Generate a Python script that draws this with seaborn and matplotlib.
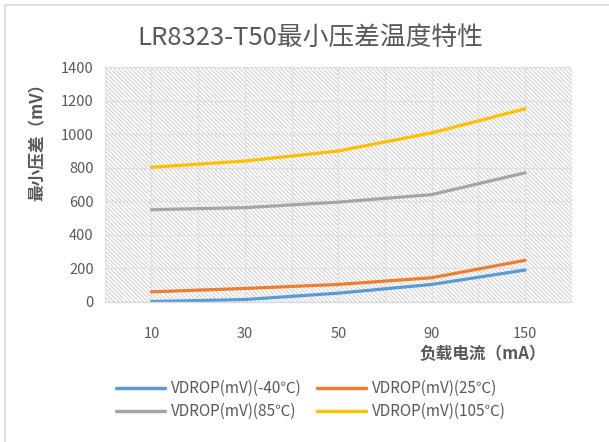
import pandas as pd
import numpy as np
import matplotlib
matplotlib.use("Agg")
import matplotlib.pyplot as plt
from matplotlib.patches import Rectangle
from matplotlib.lines import Line2D
import seaborn as sns

# data
currents = ["10", "30", "50", "90", "150"]
vd_m40 = [2, 14, 52, 104, 190]
vd_25 = [60, 80, 104, 144, 248]
vd_85 = [550, 562, 595, 640, 770]
vd_105 = [803, 840, 900, 1008, 1152]
series_names = ["VDROP(mV)(-40℃)", "VDROP(mV)(25℃)", "VDROP(mV)(85℃)", "VDROP(mV)(105℃)"]
colors = ["#5B9BD5", "#ED7D31", "#A5A5A5", "#FFC000"]

rows = []
for name, vals in zip(series_names, [vd_m40, vd_25, vd_85, vd_105]):
    for i, (c, v) in enumerate(zip(currents, vals)):
        rows.append({"pos": i, "current": c, "vdrop": v, "series": name})
df = pd.DataFrame(rows)

sns.set_style("white")
plt.rcParams['font.family'] = ['Noto Sans CJK SC', 'DejaVu Sans']
plt.rcParams['hatch.linewidth'] = 0.7
txt = "#595959"

fig = plt.figure(figsize=(6.09, 4.42), dpi=100)
fig.patches.append(Rectangle((0.008, -0.01), 1.1, 0.999, transform=fig.transFigure,
                             fill=False, edgecolor="#D9D9D9", lw=1.2))
ax = fig.add_axes([0.172, 0.317, 0.767, 0.531])

# hatched plot area
ax.add_patch(Rectangle((0, 0), 1, 1, transform=ax.transAxes, facecolor="white",
                       edgecolor="#CCCCCC", hatch="\\" * 8, lw=0, zorder=0))

sns.lineplot(data=df, x="pos", y="vdrop", hue="series", palette=colors,
             linewidth=2.3, ax=ax, legend=False, zorder=3)

ax.set_xlim(-0.5, 4.5)
ax.set_ylim(0, 1400)
ax.set_yticks(np.arange(0, 1401, 200))
ax.set_xticks(range(len(currents)))
ax.set_xticklabels(currents)
ax.set_xticks(np.arange(-0.5, 4.6, 1), minor=True)
ax.tick_params(axis="x", which="major", length=0, pad=18, labelsize=10.5, labelcolor=txt)
ax.tick_params(axis="x", which="minor", length=5, color="#D9D9D9", width=1)
ax.tick_params(axis="y", length=0, pad=8, labelsize=10.5, labelcolor=txt)

for x in np.arange(-0.5, 4.6, 0.5):
    ax.axvline(x, color="#E0E0E0", lw=1, zorder=1)
for y in np.arange(200, 1401, 200):
    ax.axhline(y, color="#E0E0E0", lw=1, zorder=1)

for s in ["top", "right", "left"]:
    ax.spines[s].set_visible(False)
ax.spines["bottom"].set_color("#D9D9D9")
ax.spines["bottom"].set_linewidth(1)
ax.spines["bottom"].set_zorder(4)

ax.set_xlabel("")
ax.set_ylabel("最小压差（mV）", fontsize=12, fontweight="bold", color=txt)
ax.yaxis.set_label_coords(-0.124, 0.70)
fig.text(0.793, 0.198, "负载电流（mA）", fontsize=12, fontweight="bold", color=txt,
         ha="center", va="center")
fig.text(0.51, 0.915, "LR8323-T50最小压差温度特性", fontsize=18.5, color=txt,
         ha="center", va="center")

# row-wise order like the reference
order = [0, 2, 1, 3]
handles = [Line2D([0], [0], color=colors[i], lw=2.5) for i in order]
labels = [series_names[i] for i in order]
leg = fig.legend(handles, labels, loc="center", bbox_to_anchor=(0.51, 0.095),
                 ncol=2, frameon=False, fontsize=11, handlelength=3.2,
                 columnspacing=1.0, labelspacing=0.4, handletextpad=0.4)
for t in leg.get_texts():
    t.set_color(txt)

fig.savefig("out.png", dpi=100)
